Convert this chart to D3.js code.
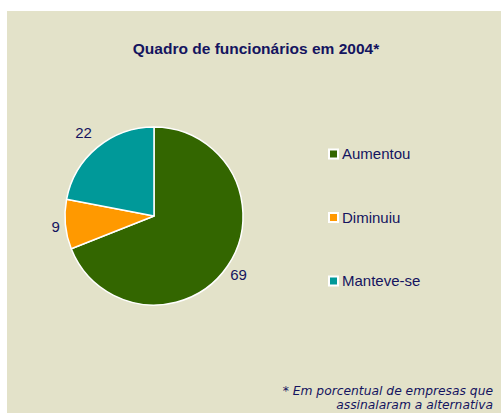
<!DOCTYPE html>
<html>
<head>
<meta charset="utf-8">
<script src="https://cdn.jsdelivr.net/npm/d3@7"></script>
<style>
  body { margin: 0; background: #ffffff; }
  svg { display: block; }
</style>
</head>
<body>
<script>
var width = 502;
var height = 413;

// data
var categories = ["Aumentou", "Diminuiu", "Manteve-se"];
var values = [69, 9, 22];
var colors = ["#336600", "#ff9900", "#009999"];

var textColor = "#14145f";

var svg = d3.select("body").append("svg")
    .attr("width", width)
    .attr("height", height);

// panel background
svg.append("rect")
    .attr("x", 7)
    .attr("y", 11)
    .attr("width", 494)
    .attr("height", height - 11)
    .attr("fill", "#e3e2c9");

// title
svg.append("text")
    .attr("x", 256)
    .attr("y", 54)
    .attr("text-anchor", "middle")
    .style("font-family", "'Liberation Sans', Arial, sans-serif")
    .style("font-weight", "bold")
    .style("font-size", "15.5px")
    .style("fill", textColor)
    .text("Quadro de funcionários em 2004*");

// pie
var radius = 89;
var cx = 154, cy = 216;

var pie = d3.pie().sort(null).value(function(d) { return d; });
var arc = d3.arc().innerRadius(0).outerRadius(radius);

var g = svg.append("g")
    .attr("transform", "translate(" + cx + "," + cy + ")");

var arcs = pie(values);

g.selectAll("path")
    .data(arcs)
    .enter()
    .append("path")
    .attr("d", arc)
    .attr("fill", function(d, i) { return colors[i]; })
    .attr("stroke", "#ffffff")
    .attr("stroke-width", 1.5)
    .attr("stroke-linejoin", "round");

// value labels sit just outside the slices
var labelAngle = [2.18, 4.60, 5.58];
var labelDist = [103, 99, 109];
g.selectAll("text.value")
    .data(arcs)
    .enter()
    .append("text")
    .attr("class", "value")
    .attr("x", function(d, i) { return Math.sin(labelAngle[i]) * labelDist[i]; })
    .attr("y", function(d, i) { return -Math.cos(labelAngle[i]) * labelDist[i]; })
    .attr("dy", "0.35em")
    .attr("text-anchor", "middle")
    .style("font-family", "'Liberation Sans', Arial, sans-serif")
    .style("font-size", "15px")
    .style("fill", textColor)
    .text(function(d) { return d.data; });

// legend
var legendY = d3.scalePoint()
    .domain(categories)
    .range([154, 281]);

var legend = svg.append("g")
    .attr("transform", "translate(328,0)");

var item = legend.selectAll("g")
    .data(categories)
    .enter()
    .append("g")
    .attr("transform", function(d) { return "translate(0," + legendY(d) + ")"; });

item.append("rect")
    .attr("x", 0)
    .attr("y", -5.5)
    .attr("width", 11)
    .attr("height", 11)
    .attr("fill", "#ffffff");

item.append("rect")
    .attr("x", 2)
    .attr("y", -3.5)
    .attr("width", 7)
    .attr("height", 7)
    .attr("fill", function(d, i) { return colors[i]; });

item.append("text")
    .attr("x", 14)
    .attr("y", 0)
    .attr("dy", "0.35em")
    .style("font-family", "'Liberation Sans', Arial, sans-serif")
    .style("font-size", "15px")
    .style("fill", textColor)
    .text(function(d) { return d; });

// footnote
var note = svg.append("text")
    .attr("text-anchor", "end")
    .style("font-family", "'DejaVu Sans', Verdana, sans-serif")
    .style("font-style", "italic")
    .style("font-size", "12.3px")
    .style("fill", textColor);

note.append("tspan").attr("x", 493).attr("y", 394.5).text("* Em porcentual de empresas que");
note.append("tspan").attr("x", 493).attr("y", 408.8).text("assinalaram a alternativa");
</script>
</body>
</html>
